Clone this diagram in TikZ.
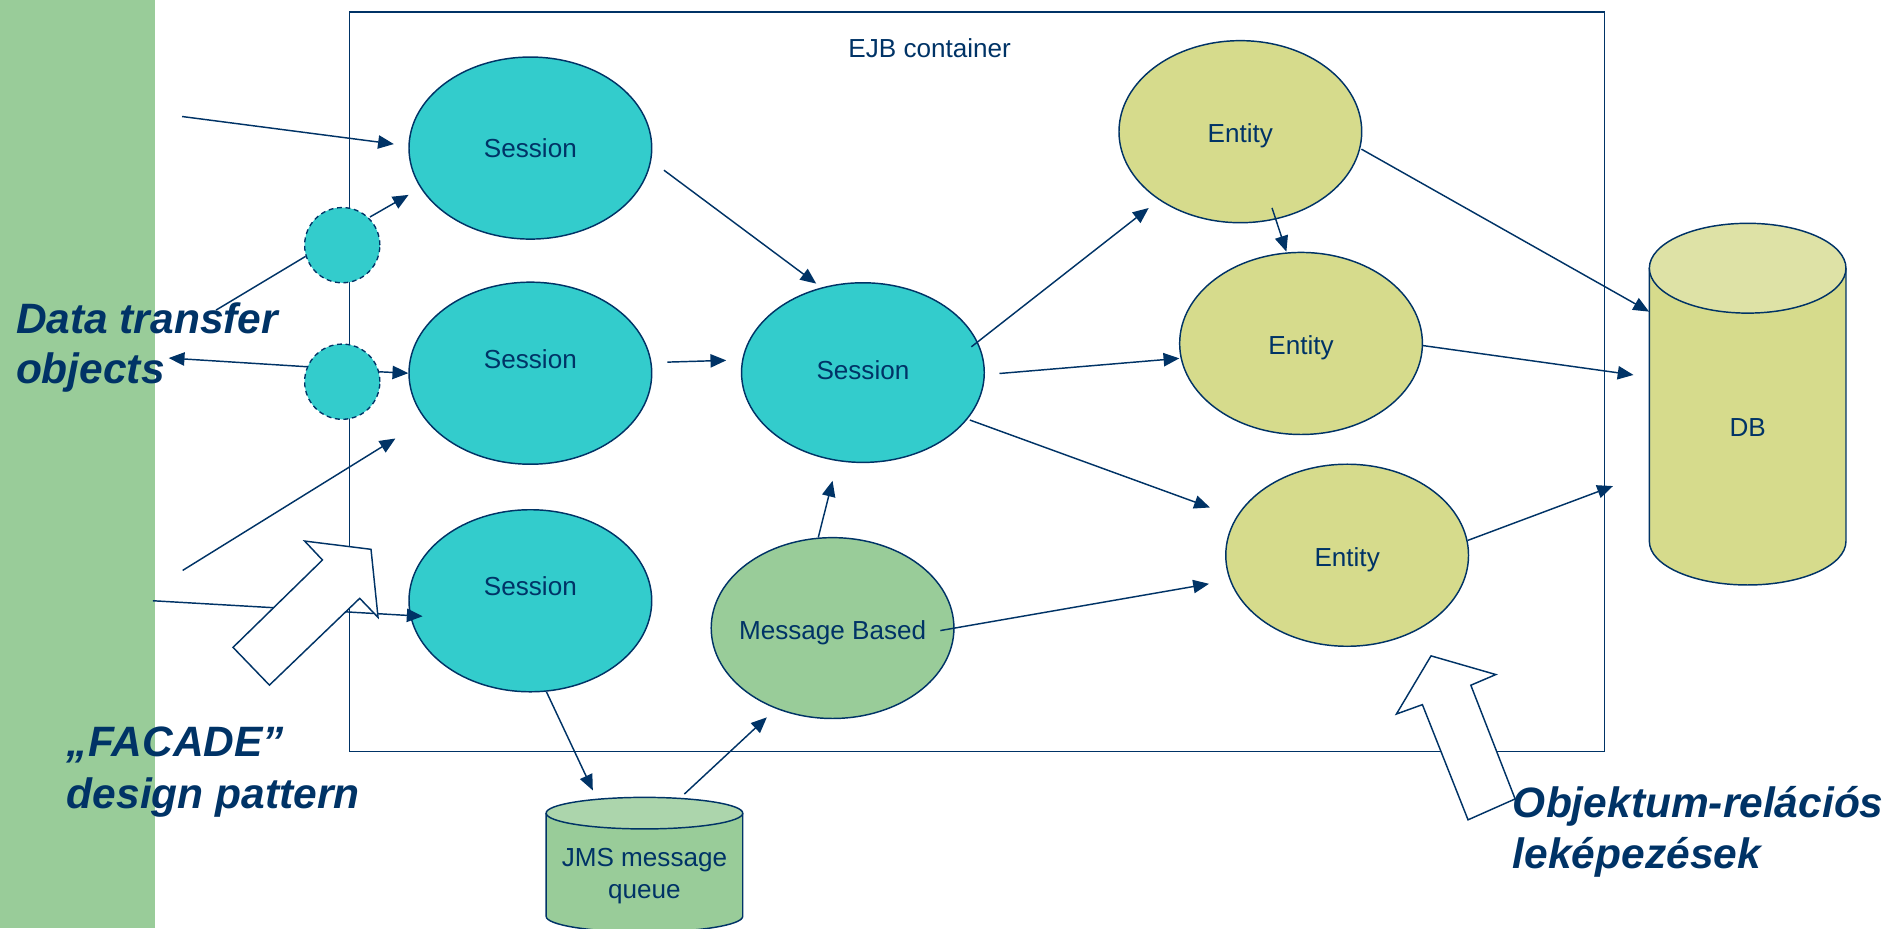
\documentclass[tikz,border=0pt]{standalone}
\usepackage{fontspec}
\setmainfont{Liberation Sans}
\usetikzlibrary{arrows.meta,shapes.geometric}
\definecolor{navy}{RGB}{0,51,102}
\definecolor{sesscol}{RGB}{51,204,204}
\definecolor{entcol}{RGB}{214,219,140}
\definecolor{grn}{RGB}{153,204,153}
\definecolor{grnlt}{RGB}{172,213,172}
\definecolor{entlt}{RGB}{222,226,166}
\begin{document}
\begin{tikzpicture}[x=1pt,y=-1pt,
  every node/.style={font=\fontsize{21.5}{26}\selectfont, text=navy},
  bub/.style={ellipse, draw=navy, line width=1.2pt, minimum width=200pt, minimum height=150pt, inner sep=0pt},
  sess/.style={bub, fill=sesscol},
  ent/.style={bub, fill=entcol},
  msg/.style={bub, fill=grn},
  dto/.style={circle, draw=navy, line width=1.1pt, dash pattern=on 4pt off 3pt, fill=sesscol, minimum size=62pt, inner sep=0pt},
  arr/.style={draw=navy, line width=1.2pt, -{Triangle[length=13pt,width=11pt]}},
  ln/.style={draw=navy, line width=1.2pt},
  big/.style={font=\fontsize{35}{42}\selectfont\bfseries\itshape, anchor=base west, inner sep=0pt},
  blk/.style={draw=navy, line width=1.2pt, fill=white, line join=miter},
  lbl/.style={inner sep=0pt}
]
\useasboundingbox (0,0) rectangle (1568,765);
% green band
\fill[grn] (0,0) rectangle (128,765);
% container
\node[draw=navy, line width=1.2pt, minimum width=1034pt, minimum height=609pt, inner sep=0pt] (ejb) at (805,314.5) {};
\node (ejbt) at (766,40) {EJB container};

% JMS cylinder
\fill[grn] (450,670) -- (450,755) arc[start angle=180, end angle=360, x radius=81pt, y radius=13pt] -- (612,670) -- cycle;
\draw[navy, line width=1.2pt] (450,670) -- (450,755) arc[start angle=180, end angle=360, x radius=81pt, y radius=13pt] -- (612,670);
\draw[navy, line width=1.2pt, fill=grnlt] (531,670) ellipse[x radius=81pt, y radius=13pt];
\node[inner sep=0pt, minimum width=162pt, minimum height=118pt, align=center] (jms) at (531,716) {};
\node[lbl, align=center] (jmst) at (531,722) {JMS message\\queue};

% DB cylinder
\fill[entcol] (1359,221) -- (1359,446) arc[start angle=180, end angle=360, x radius=81pt, y radius=36pt] -- (1521,221) -- cycle;
\draw[navy, line width=1.2pt] (1359,221) -- (1359,446) arc[start angle=180, end angle=360, x radius=81pt, y radius=36pt] -- (1521,221);
\draw[navy, line width=1.2pt, fill=entlt] (1440,221) ellipse[x radius=81pt, y radius=37pt];
\node[inner sep=0pt, minimum width=162pt, minimum height=299pt, label={[lbl,yshift=-19.5pt]center:DB}] (db) at (1440,332.5) {};

% bubbles
\node[sess] (s1) at (437,122) {Session};
\node[sess, label={[lbl,yshift=11.5pt]center:Session}] (s2) at (437,307.5) {};
\node[sess, label={[lbl,yshift=12pt]center:Session}] (s3) at (437,495) {};
\node[sess, minimum height=148pt, label={[lbl,yshift=2pt]center:Session}] (cs) at (711,307) {};
\node[ent, label={[lbl,yshift=-3.5pt]center:Entity}] (e1) at (1022,108.5) {};
\node[ent, label={[lbl,yshift=-3.5pt]center:Entity}] (e2) at (1072,283) {};
\node[ent, label={[lbl,yshift=-3.5pt]center:Entity}] (e3) at (1110,457.5) {};
\node[msg, minimum height=149pt, label={[lbl,yshift=-3.5pt]center:Message Based}] (mb) at (686,517.5) {};
\node[dto] (d1) at (282,202) {};
\node[dto] (d2) at (282,314.5) {};

% free ends
\coordinate (in1) at (150,96);
\coordinate (in2) at (150.5,470);
\coordinate (in3) at (126,495);
\coordinate (out1) at (178,255.5);
\coordinate (out2) at (139,295);

% connectors
\draw[arr, shorten >=12pt] (in1) -- (s1.179.5);
\draw[arr, shorten <=1pt, shorten >=11.3pt] (d1.46.3) -- (s1.200.2);
\draw[ln] (out1) -- (d1.197.6);
\draw[arr] (d2.157.4) -- (out2);
\draw[arr] (d2.15.8) -- (s2.180);
\draw[arr, shorten >=29pt] (in2) -- (s2.204.5);
\draw[arr, shorten >=-10.5pt] (in3) -- (s3.187.6);
\draw[arr, shorten <=13pt, shorten >=5.3pt] (s1.354) -- (cs.116.9);
\draw[arr, shorten <=13pt, shorten >=13pt] (s2.5.86) -- (cs.174.4);
\draw[arr, shorten <=-6.7pt, shorten >=10.7pt] (cs.15) -- (e1.220.35);
\draw[arr, shorten <=12pt, shorten >=1pt] (cs.359.5) -- (e2.187.3);
\draw[arr, shorten <=2pt, shorten >=23pt] (cs.336) -- (e3.161.2);
\draw[arr, shorten <=-10pt, shorten >=0.6pt] (e1.292.6) -- (e2.99.3);
\draw[arr, shorten <=1pt] (e1.352.9) -- (db.137.1);
\draw[arr, shorten >=13pt] (e2.359.7) -- (db.165.3);
\draw[arr, shorten >=31.8pt] (e3.7.2) -- (db.215.1);
\draw[arr, shorten >=16.7pt] (mb.99.3) -- (cs.254.2);
\draw[arr, shorten <=-12pt, shorten >=17.3pt] (mb.0) -- (e3.192.2);
\draw[arr, shorten >=6.1pt] (s3.280.1) -- (jms.124.75);
\draw[arr, shorten <=3.7pt, shorten >=10.3pt] (jms.63.8) -- (mb.235.8);

% block arrows
\draw[blk] (251,445.8) -- (305.7,452.6) -- (311.5,508.7) -- (296.4,493) -- (222,564.5) -- (192,533.4) -- (265.7,461.4) -- cycle;
\draw[blk] (1179.1,540.4) -- (1232.5,555.8) -- (1211.9,564.6) -- (1248.4,658.3) -- (1209.6,675.5) -- (1172,580.6) -- (1150.6,588.3) -- cycle;

% big labels
\node[big] (dt1) at (13,274.6) {Data transfer};
\node[big] (dt2) at (13,315.8) {objects};
\node[big] (fc1) at (55,623.5) {„FACADE”};
\node[big] (fc2) at (55,666) {design pattern};
\node[big] (or1) at (1246.4,673.6) {Objektum-relációs};
\node[big] (or2) at (1246.4,715.6) {leképezések};
\end{tikzpicture}
\end{document}
